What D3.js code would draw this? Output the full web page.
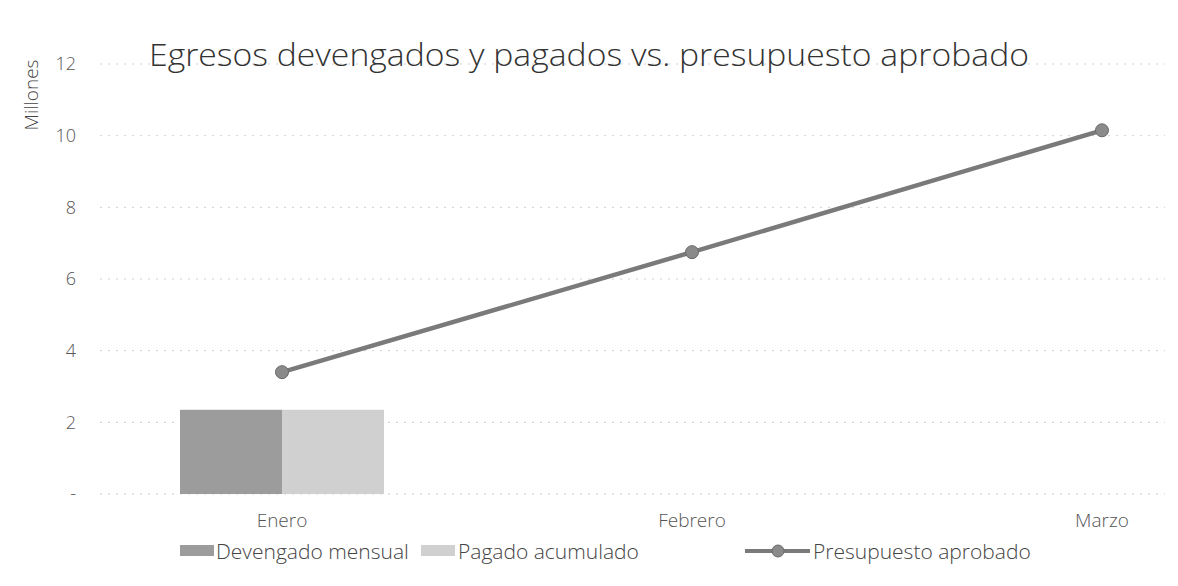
<!DOCTYPE html>
<html><head><meta charset="utf-8">
<script src="https://cdn.jsdelivr.net/npm/d3@7"></script>
<style>body{margin:0;background:#fff}svg{display:block}text{font-family:"Open Sans",sans-serif}</style>
</head><body><svg id="c" width="1178" height="586"></svg>
<script>
const categories = ["Enero", "Febrero", "Marzo"];
const devengado = [2.35, null, null];
const pagado = [2.35, null, null];
const presupuesto = [3.4, 6.75, 10.15];
const yTicks = [0, 2, 4, 6, 8, 10, 12];
const yTickLabels = ["-", "2", "4", "6", "8", "10", "12"];
const seriesNames = ["Devengado mensual", "Pagado acumulado", "Presupuesto aprobado"];
const title = "Egresos devengados y pagados vs. presupuesto aprobado";
const yTitle = "Millones";

const svg = d3.select("#c");
const x = d3.scaleBand().domain(categories).range([77, 1307]).paddingInner(0).paddingOuter(0);
const y = d3.scaleLinear().domain([0, 12]).range([494, 64]);
const xs = d3.scaleBand().domain([0, 1]).range([0, 204]);
const cDev = "#9c9c9c", cPag = "#d0d0d0", cLine = "#7a7a7a";

// gridlines
svg.append("g").selectAll("line").data(yTicks).join("line")
  .attr("x1", 100).attr("x2", 1165)
  .attr("y1", d => y(d)).attr("y2", d => y(d))
  .attr("stroke", "#cfcfcf").attr("stroke-width", 1).attr("stroke-dasharray", "2,6");

// y axis labels
const yAxis = d3.axisLeft(y).tickValues(yTicks).tickFormat((d, i) => yTickLabels[i]).tickSize(0).tickPadding(0);
const ga = svg.append("g").attr("transform", "translate(76,0)").call(yAxis);
ga.select(".domain").remove();
ga.selectAll("text").attr("font-size", 18).attr("fill", "#555").attr("font-family", "'Open Sans',sans-serif").attr("font-weight", 300);

svg.append("text").attr("transform", "translate(38,95) rotate(-90)").attr("text-anchor", "middle")
  .attr("font-size", 19).attr("fill", "#444").attr("font-weight", 300).text(yTitle);

svg.append("text").attr("x", 589).attr("y", 66).attr("text-anchor", "middle")
  .attr("font-size", 31).attr("fill", "#333").attr("font-weight", 300)
  .attr("textLength", 880).attr("lengthAdjust", "spacingAndGlyphs").text(title);

// bars
const gx = c => x(c) + x.bandwidth() / 2 - 102;
svg.append("g").selectAll("rect.d").data(categories.map((c, i) => ({c, v: devengado[i]})).filter(d => d.v != null)).join("rect")
  .attr("x", d => gx(d.c) + xs(0)).attr("width", xs.bandwidth())
  .attr("y", d => y(d.v)).attr("height", d => y(0) - y(d.v)).attr("fill", cDev);
svg.append("g").selectAll("rect.p").data(categories.map((c, i) => ({c, v: pagado[i]})).filter(d => d.v != null)).join("rect")
  .attr("x", d => gx(d.c) + xs(1)).attr("width", xs.bandwidth())
  .attr("y", d => y(d.v)).attr("height", d => y(0) - y(d.v)).attr("fill", cPag);

// line
const pts = categories.map((c, i) => [x(c) + x.bandwidth() / 2, y(presupuesto[i])]);
svg.append("path").attr("d", d3.line()(pts)).attr("fill", "none").attr("stroke", cLine).attr("stroke-width", 4.5);
svg.append("g").selectAll("circle").data(pts).join("circle")
  .attr("cx", d => d[0]).attr("cy", d => d[1]).attr("r", 6.5).attr("fill", "#8a8a8a").attr("stroke", "#6a6a6a").attr("stroke-width", 1);

// category labels
svg.append("g").selectAll("text").data(categories).join("text")
  .attr("x", d => x(d) + x.bandwidth() / 2).attr("y", 527).attr("text-anchor", "middle")
  .attr("font-size", 19).attr("fill", "#555").attr("font-weight", 300).text(d => d);

// legend
const lg = svg.append("g").attr("font-size", 21).attr("fill", "#444").attr("font-weight", 300);
lg.append("rect").attr("x", 180).attr("y", 545).attr("width", 34).attr("height", 11).attr("fill", cDev);
lg.append("text").attr("x", 216).attr("y", 559).text(seriesNames[0]);
lg.append("rect").attr("x", 421).attr("y", 545).attr("width", 34).attr("height", 11).attr("fill", cPag);
lg.append("text").attr("x", 458).attr("y", 559).text(seriesNames[1]);
lg.append("line").attr("x1", 745).attr("x2", 810).attr("y1", 551).attr("y2", 551).attr("stroke", cLine).attr("stroke-width", 4);
lg.append("circle").attr("cx", 778).attr("cy", 551).attr("r", 6).attr("fill", "#8a8a8a").attr("stroke", "#6a6a6a");
lg.append("text").attr("x", 813).attr("y", 559).text(seriesNames[2]);
</script></body></html>
